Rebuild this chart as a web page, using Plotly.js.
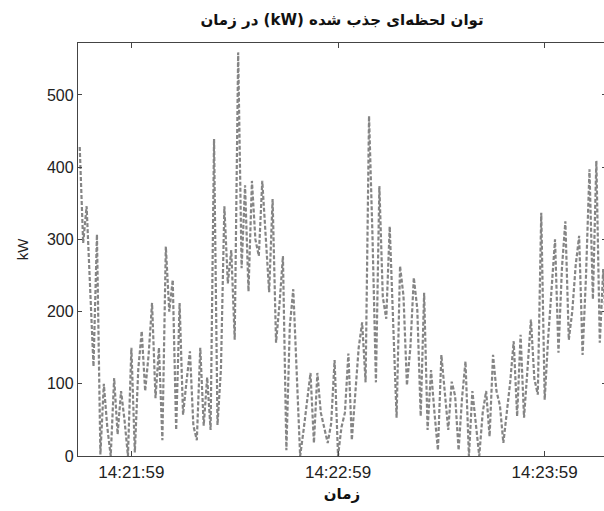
<!DOCTYPE html>
<html>
<head>
<meta charset="utf-8">
<script src="https://cdn.plot.ly/plotly-3.0.1.min.js"></script>
<style>
html, body { margin: 0; padding: 0; background: #fff; overflow: hidden; width: 604px; height: 511px; }
#chart { width: 606px; height: 511px; }
</style>
</head>
<body>
<div id="chart"></div>
<script>
// Sampled once per second starting at 14:21:44
const startTime = '2024-01-01 14:21:44';
const stepSeconds = 1;
const powerKW = [
  428, 295, 346, 244, 124, 307, 2, 100, 40, 0,
  108, 30, 90, 50, 0, 150, 5, 120, 173, 90,
  140, 212, 80, 150, 22, 290, 200, 244, 36, 212,
  57, 103, 145, 42, 22, 150, 42, 109, 36, 439,
  43, 120, 346, 239, 285, 161, 559, 260, 375, 228,
  381, 300, 277, 381, 300, 227, 356, 157, 210, 277,
  8, 180, 231, 123, 0, 36, 80, 115, 18, 115,
  60, 40, 18, 45, 133, 0, 40, 60, 142, 22,
  88, 150, 185, 102, 471, 305, 102, 374, 220, 190,
  318, 180, 53, 263, 222, 98, 150, 247, 204, 55,
  226, 36, 119, 60, 8, 140, 90, 36, 103, 83,
  8, 80, 131, 0, 90, 40, 0, 60, 90, 27,
  140, 90, 70, 18, 60, 103, 159, 55, 168, 53,
  120, 189, 107, 85, 337, 78, 163, 230, 300, 143,
  260, 325, 161, 200, 264, 305, 140, 250, 397, 217,
  409, 157, 259, 155
];
const xTickVals = ['2024-01-01 14:21:59', '2024-01-01 14:22:59', '2024-01-01 14:23:59'];
const xTickText = ['14:21:59', '14:22:59', '14:23:59'];
const yTickVals = [0, 100, 200, 300, 400, 500];
const titleText = 'توان لحظه‌ای جذب شده (kW) در زمان';
const xTitle = 'زمان';
const yTitle = 'kW';

function pad(n) { return (n < 10 ? '0' : '') + n; }
const t0 = new Date(startTime.replace(' ', 'T'));
const times = powerKW.map(function (_, i) {
  const d = new Date(t0.getTime() + i * stepSeconds * 1000);
  return '2024-01-01 ' + pad(d.getHours()) + ':' + pad(d.getMinutes()) + ':' + pad(d.getSeconds());
});

const trace = {
  x: times,
  y: powerKW,
  type: 'scatter',
  mode: 'lines',
  line: { color: '#858585', width: 2.2, dash: '4px,2px' },
  hoverinfo: 'skip'
};

const tickFontX = { family: 'Liberation Sans, Arial, sans-serif', size: 17, color: '#222' };
const tickFontY = { family: 'Liberation Sans, Arial, sans-serif', size: 16, color: '#222' };

const layout = {
  width: 606,
  height: 511,
  margin: { l: 78, r: 0, t: 43, b: 55, pad: 0 },
  paper_bgcolor: '#fff',
  plot_bgcolor: '#fff',
  showlegend: false,
  title: {
    // right-to-left embedding around the Persian title
    text: '<b>\u202B' + titleText + '\u202C</b>',
    font: { family: 'DejaVu Sans, sans-serif', size: 15, color: '#111' },
    x: 0.5, xanchor: 'center', xref: 'paper',
    y: 0.962, yanchor: 'middle'
  },
  xaxis: {
    type: 'date',
    range: ['2024-01-01 14:21:43.5', '2024-01-01 14:24:16.8'],
    tickmode: 'array',
    tickvals: xTickVals,
    ticktext: xTickText,
    ticks: 'inside', ticklen: 5, tickcolor: '#444', tickwidth: 1,
    showline: true, linecolor: '#444', linewidth: 1.2, mirror: 'ticks',
    showgrid: false, zeroline: false,
    tickfont: tickFontX,
    title: { text: '<b>' + xTitle + '</b>', font: { family: 'DejaVu Sans, sans-serif', size: 15, color: '#111' }, standoff: 8 },
    fixedrange: true
  },
  yaxis: {
    range: [0, 572],
    tickmode: 'array',
    tickvals: yTickVals,
    ticks: 'inside', ticklen: 4, tickcolor: '#444', tickwidth: 1,
    showline: true, linecolor: '#444', linewidth: 1.2, mirror: 'ticks',
    showgrid: false, zeroline: false,
    tickfont: tickFontY,
    title: { text: yTitle, font: { family: 'Liberation Sans, Arial, sans-serif', size: 15, color: '#222' }, standoff: 14 },
    fixedrange: true
  }
};

Plotly.newPlot('chart', [trace], layout, { staticPlot: true, displayModeBar: false });
</script>
</body>
</html>
